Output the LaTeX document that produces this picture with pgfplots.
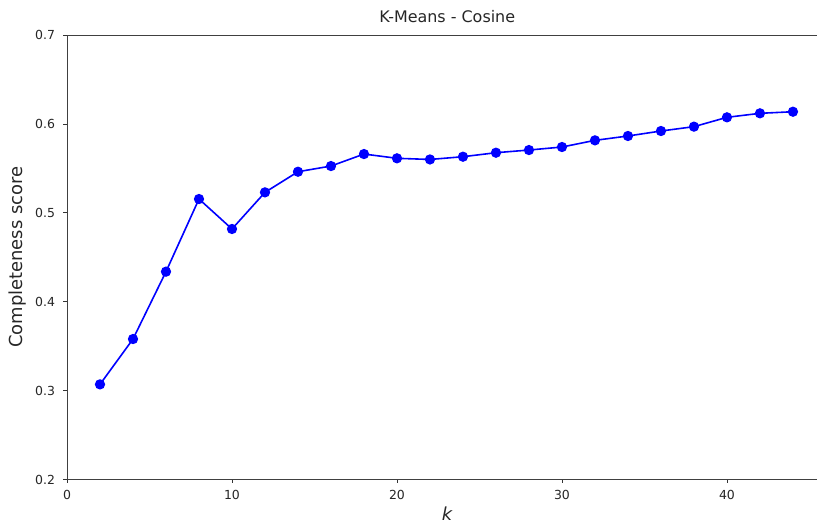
\documentclass[border=0pt]{standalone}
\usepackage{fontspec}
\setmainfont{DejaVu Sans}
\usepackage{pgfplots}
\pgfplotsset{compat=1.18}
\begin{document}
\begin{tikzpicture}
\useasboundingbox (0,0) rectangle (817bp,525bp);
\begin{axis}[
  at={(67bp,45.5bp)}, anchor=south west,
  scale only axis, width=760.6bp, height=444.5bp,
  xmin=0, xmax=46.1, ymin=0.2, ymax=0.7,
  xtick={0,10,20,30,40}, ytick={0.2,0.3,0.4,0.5,0.6,0.7},
  tick align=outside, xtick pos=bottom, ytick pos=left,
  major tick length=3.5bp,
  tick style={black!80, line width=0.8bp},
  axis line style={black!75, line width=0.8bp},
  /pgf/number format/assume math mode=true,
  tick label style={font=\fontsize{12.5}{14}\selectfont, text=black!85},
  xticklabel style={yshift=-4bp},
  yticklabel style={xshift=-5bp, /pgf/number format/fixed, /pgf/number format/fixed zerofill, /pgf/number format/precision=1},
  title={K-Means - Cosine},
  title style={font=\fontsize{16}{18}\selectfont, text=black!85, at={(axis description cs:0.5,1)}, anchor=base, yshift=7bp},
  xlabel={\textit{k}}, ylabel={Completeness score},
  label style={font=\fontsize{18}{20}\selectfont, text=black!85},
  xlabel style={at={(axis description cs:0.5,0)}, anchor=base, yshift=-41bp},
  ylabel style={at={(axis description cs:-0.0644,0.5)}, anchor=center},
]
\addplot[color=blue, line width=1.6bp, mark=*, mark size=4.3bp, mark options={solid, fill=blue, draw=blue}] coordinates {
(2,0.307) (4,0.358) (6,0.4338) (8,0.5155) (10,0.4818) (12,0.523)
(14,0.5462) (16,0.5526) (18,0.5661) (20,0.5613) (22,0.5600) (24,0.5631)
(26,0.5676) (28,0.5706) (30,0.574) (32,0.5815) (34,0.5864) (36,0.592)
(38,0.5969) (40,0.6074) (42,0.6119) (44,0.6137)
};
\end{axis}
\end{tikzpicture}
\end{document}
